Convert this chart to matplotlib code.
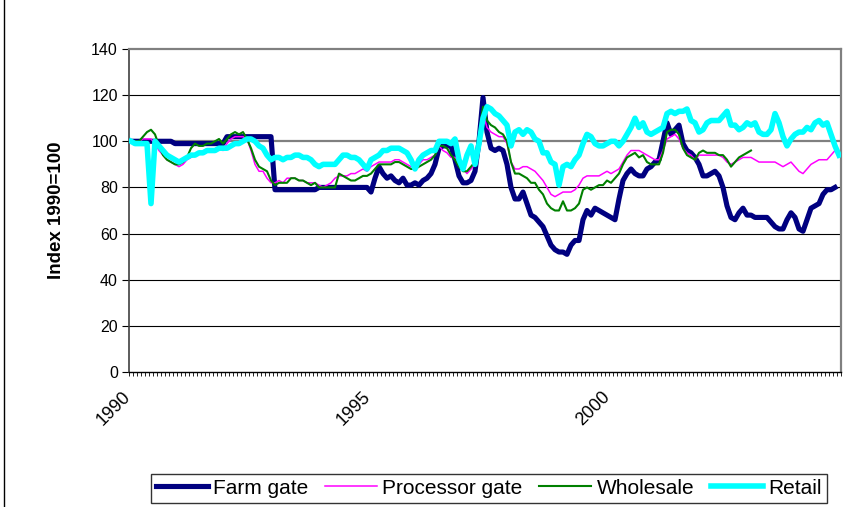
import numpy as np
import matplotlib
matplotlib.use("Agg")
import matplotlib.pyplot as plt
from matplotlib.ticker import FixedLocator, NullFormatter

plt.rcParams["font.family"] = ["Liberation Sans", "DejaVu Sans"]

# monthly index values, Jan 1990 onwards (1990 = 100)
farm_gate = [
    100, 100, 100, 100, 100, 100, 100, 100, 100, 100, 100, 99,
    99, 99, 99, 99, 99, 99, 99, 99, 99, 99, 99, 99,
    102, 102, 102, 102, 102, 102, 102, 102, 102, 102, 102, 102,
    79, 79, 79, 79, 79, 79, 79, 79, 79, 79, 79, 80,
    80, 80, 80, 80, 80, 80, 80, 80, 80, 80, 80, 80,
    78, 84, 89, 86, 84, 85, 83, 82, 84, 81, 81, 82,
    81, 83, 84, 86, 90, 97, 98, 98, 98, 92, 85, 82,
    82, 83, 87, 100, 119, 104, 97, 96, 97, 96, 90, 80,
    75, 75, 78, 73, 68, 67, 65, 63, 59, 55, 53, 52,
    52, 51, 55, 57, 57, 66, 70, 68, 71, 70, 69, 68,
    67, 66, 75, 83, 86, 88, 86, 85, 85, 88, 89, 91,
    92, 100, 108, 103, 105, 107, 99, 96, 95, 93, 90, 85,
    85, 86, 87, 85, 80, 72, 67, 66, 69, 71, 68, 68,
    67, 67, 67, 67, 65, 63, 62, 62, 66, 69, 67, 62,
    61, 66, 71, 72, 73, 77, 79, 79, 80,
]

processor_gate = [
    100, 100, 100, 101, 101, 101, 99, 96, 94, 92, 91, 90,
    89, 90, 92, 93, 94, 95, 95, 96, 96, 96, 97, 96,
    99, 101, 102, 102, 102, 101, 96, 90, 87, 87, 84, 82,
    82, 83, 82, 84, 84, 84, 83, 83, 82, 82, 82, 81,
    80, 81, 82, 84, 85, 85, 85, 86, 86, 87, 88, 87,
    89, 90, 91, 91, 91, 91, 92, 92, 91, 90, 89, 89,
    90, 92, 92, 93, 94, 98, 96, 95, 93, 93, 89, 88,
    86, 88, 90, 100, 112, 106, 104, 103, 102, 102, 99, 91,
    88, 88, 89, 89, 88, 87, 85, 83, 80, 77, 76, 77,
    78, 78, 78, 79, 81, 84, 85, 85, 85, 85, 86, 87,
    86, 87, 88, 91, 94, 96, 96, 96, 95, 94, 93, 92,
    92, 96, 101, 102, 103, 101, 97, 95, 94, 92, 94, 94,
    94, 94, 94, 94, 93, 91, 90, 91, 92, 93, 93, 93,
    92, 91, 91, 91, 91, 91, 90, 89, 90, 91, 89, 87,
    86, 88, 90, 91, 92, 92, 92, 94, 96,
]

wholesale = [
    100, 100, 100, 102, 104, 105, 103, 98, 94, 92, 91, 90,
    90, 91, 93, 97, 99, 98, 98, 99, 99, 100, 101, 99,
    101, 103, 104, 103, 104, 101, 97, 92, 89, 88, 87, 83,
    81, 82, 82, 82, 84, 84, 83, 83, 82, 81, 82, 80,
    80, 80, 80, 80, 86, 85, 84, 83, 83, 84, 85, 85,
    86, 88, 90, 90, 90, 90, 91, 91, 90, 89, 88, 88,
    89, 90, 91, 92, 94, 98, 98, 97, 94, 92, 89, 87,
    87, 89, 91, 103, 115, 109, 107, 106, 104, 103, 100, 91,
    86, 86, 85, 84, 82, 82, 79, 77, 73, 71, 70, 70,
    74, 70, 70, 71, 73, 79, 80, 79, 80, 81, 81, 83,
    82, 84, 86, 90, 93, 94, 95, 93, 94, 91, 90, 90,
    90, 95, 104, 105, 105, 103, 97, 94, 93, 92, 95, 96,
    95, 95, 95, 94, 94, 92, 89, 91, 93, 94, 95, 96,
]

retail = [
    100, 99, 99, 99, 99, 73, 100, 98, 96, 94, 93, 92,
    91, 92, 93, 94, 94, 95, 95, 96, 96, 96, 97, 97,
    97, 98, 99, 99, 100, 101, 101, 100, 98, 97, 94, 92,
    93, 93, 92, 93, 93, 94, 94, 93, 93, 92, 90, 89,
    90, 90, 90, 90, 92, 94, 94, 93, 93, 92, 90, 88,
    92, 93, 94, 96, 96, 97, 97, 97, 96, 95, 92, 88,
    92, 94, 95, 96, 96, 100, 100, 100, 99, 101, 92, 88,
    94, 98, 90, 99, 110, 115, 114, 112, 111, 109, 107, 98,
    104, 105, 103, 105, 104, 101, 100, 95, 95, 91, 90, 81,
    89, 90, 89, 92, 94, 99, 103, 102, 99, 98, 98, 99,
    100, 100, 98, 100, 103, 106, 110, 106, 108, 104, 103, 104,
    105, 106, 112, 113, 112, 113, 113, 114, 109, 108, 104, 105,
    108, 109, 109, 109, 111, 113, 107, 107, 105, 106, 108, 107,
    108, 104, 103, 103, 105, 112, 108, 102, 98, 101, 103, 104,
    104, 106, 105, 108, 109, 107, 108, 103, 98, 94,
]

year_labels = ["1990", "1995", "2000"]
year_pos = [0, 60, 120]
n_months = len(retail)

fig = plt.figure(figsize=(8.5, 5.07), dpi=100)
ax = fig.add_axes([129 / 850, 1 - 372 / 507, (841 - 129) / 850, (372 - 49) / 507])

series = [
    ("Farm gate", farm_gate, "#000080", 3.7),
    ("Processor gate", processor_gate, "#ff00ff", 1.1),
    ("Wholesale", wholesale, "#008000", 1.5),
    ("Retail", retail, "#00ffff", 4.0),
]
handles = []
for name, vals, col, lw in series:
    (h,) = ax.plot(np.arange(len(vals)), vals, color=col, lw=lw, label=name,
                   solid_joinstyle="round", zorder=3)
    handles.append(h)

ax.set_xlim(-0.5, n_months - 0.5)
ax.set_ylim(0, 140)
ax.set_yticks(range(0, 141, 20))
for v in range(20, 140, 20):
    if v == 100:
        ax.axhline(v, color="#808080", lw=1.6, zorder=1)
    else:
        ax.axhline(v, color="black", lw=0.8, zorder=1)

# one tick per month, year labels every five years
ax.set_xticks([])
ax.xaxis.set_minor_locator(FixedLocator(np.arange(-0.5, n_months, 1)))
ax.xaxis.set_minor_formatter(NullFormatter())
ax.tick_params(axis="x", which="minor", length=3, width=0.6, direction="out")
ax.tick_params(axis="y", length=5, width=0.8, direction="out", labelsize=11.5, pad=3)
for pos, lab in zip(year_pos, year_labels):
    ax.annotate(lab, xy=(pos, 0), xycoords=ax.get_xaxis_transform(),
                xytext=(-6.5, -12), textcoords="offset points",
                rotation=45, ha="right", va="top", rotation_mode="anchor",
                fontsize=13)

for side in ["top", "right"]:
    ax.spines[side].set_color("#808080")
    ax.spines[side].set_linewidth(1.6)
ax.spines["left"].set_color("#404040")
ax.spines["left"].set_linewidth(1.2)
ax.spines["bottom"].set_color("black")
ax.spines["bottom"].set_linewidth(1.0)

ax.set_ylabel("Index 1990=100", fontsize=13.5, fontweight="bold", labelpad=19)

leg = fig.legend(handles=handles, loc="center", bbox_to_anchor=(0.575, 0.037),
                 ncol=4, fontsize=15, frameon=True, fancybox=False,
                 handlelength=2.5, handletextpad=0.25, columnspacing=0.8,
                 borderpad=0.25, borderaxespad=0)
leg.get_frame().set_edgecolor("black")
leg.get_frame().set_linewidth(1.0)

# chart area border
fig.add_artist(plt.Line2D([4 / 850, 4 / 850], [0, 1], transform=fig.transFigure,
                          color="black", lw=1.0))

fig.savefig("out.png", dpi=100)
